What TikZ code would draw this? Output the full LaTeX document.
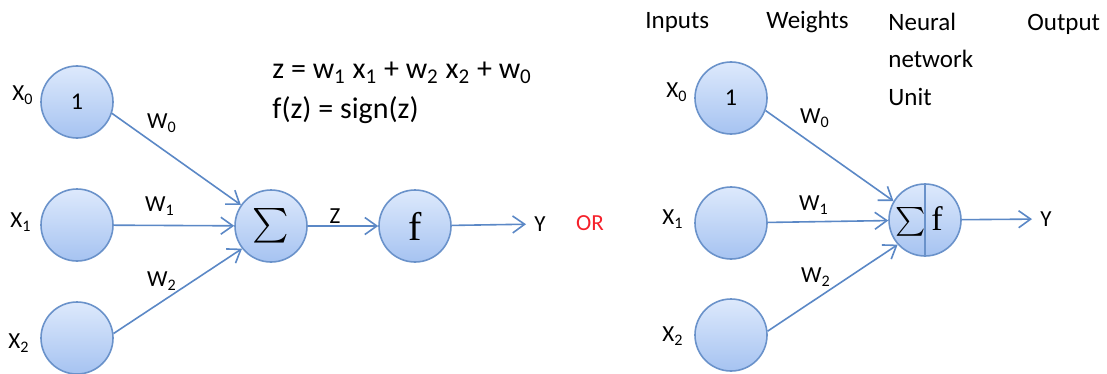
\documentclass[tikz,border=0pt]{standalone}
\usepackage{amsmath}
\usepackage[no-math]{fontspec}
\setmainfont{Carlito}
\newfontfamily\actfont{Liberation Serif}
\usetikzlibrary{arrows.meta}
\definecolor{nodeTop}{HTML}{DDE9FC}
\definecolor{nodeBot}{HTML}{A6C3F1}
\definecolor{nodeEdge}{HTML}{6A92CA}
\definecolor{wireBlue}{HTML}{5B88C6}
\definecolor{orRed}{HTML}{F5202A}
\begin{document}
\begin{tikzpicture}[
    x=0.5pt, y=-0.5pt,
    neuron/.style={circle, draw=nodeEdge, line width=0.8pt, top color=nodeTop, bottom color=nodeBot,
      minimum size=36pt, inner sep=0pt, font=\fontsize{12}{14}\selectfont},
    wire/.style={draw=wireBlue, line width=0.8pt, -{Straight Barb[length=6pt,width=8.5pt]}},
    lbl/.style={font=\fontsize{11.5}{13}\selectfont, inner sep=0pt},
    head/.style={font=\fontsize{12.5}{15}\selectfont, inner sep=0pt, anchor=base west},
    eqn/.style={font=\fontsize{15}{18}\selectfont, inner sep=0pt, anchor=base west},
  ]
    \useasboundingbox (0,0) rectangle (1107,374);
    % Left: perceptron drawn in two stages
    \node[neuron] (lx0) at (77,102) {1};
    \node[neuron] (lx1) at (77,225) {};
    \node[neuron] (lx2) at (77,338) {};
    \node[neuron, font=\fontsize{18}{20}\selectfont] (sum) at (271,226) {$\sum$};
    \node[neuron, font=\actfont\fontsize{20}{22}\selectfont] (act) at (415,226) {f};
    \node[lbl] (ly) at (540,224) {Y};
    \node[lbl, text=orRed] (or) at (590,223) {OR};
    \node[lbl] (lx0-lbl) at (23,95) {X\textsubscript{0}};
    \node[lbl] (lx1-lbl) at (21,222) {X\textsubscript{1}};
    \node[lbl] (lx2-lbl) at (19,343) {X\textsubscript{2}};
    \node[lbl] (lw0) at (162,123) {W\textsubscript{0}};
    \node[lbl] (lw1) at (160,206) {W\textsubscript{1}};
    \node[lbl] (lw2) at (162,281) {W\textsubscript{2}};
    \node[lbl] (lz) at (335,216) {Z};
    \node[eqn] (eq1) at (272,79) {z = w\textsubscript{1} x\textsubscript{1} + w\textsubscript{2} x\textsubscript{2} + w\textsubscript{0}};
    \node[eqn] (eq2) at (272,119) {f(z) = sign(z)};
    \draw[wire] (lx0.-18) -- (sum.145);
    \draw[wire] (lx1) -- (sum);
    \draw[wire] (lx2.7) -- (sum.218);
    \draw[wire] (sum) -- (act);
    \draw[wire, shorten >=4pt] (act) -- (ly);
    % Right: same unit with sum and activation merged
    \node[head] (h-in) at (645,29) {Inputs};
    \node[head] (h-wt) at (766,29) {Weights};
    \foreach \t [count=\i from 0] in {Neural, network, Unit} {
      \node[head] (h-nn\i) at (888, 31+\i*37) {\t};
    }
    \node[head] (h-out) at (1027,31) {Output};
    \node[neuron] (rx0) at (731,98) {1};
    \node[neuron] (rx1) at (731,223) {};
    \node[neuron] (rx2) at (731,335) {};
    \node[neuron] (unit) at (925,220) {};
    \draw[draw=nodeEdge, line width=0.8pt] (unit.north) -- (unit.south);
    \node[inner sep=0pt, font=\fontsize{15}{18}\selectfont] (u-sum) at (911,222) {$\sum$};
    \node[inner sep=0pt, font=\actfont\fontsize{17}{19}\selectfont] (u-f) at (937,219) {f};
    \node[lbl] (ry) at (1046,219) {Y};
    \node[lbl] (rx0-lbl) at (677,92) {X\textsubscript{0}};
    \node[lbl] (rx1-lbl) at (673,219) {X\textsubscript{1}};
    \node[lbl] (rx2-lbl) at (673,336) {X\textsubscript{2}};
    \node[lbl] (rw0) at (815,118) {W\textsubscript{0}};
    \node[lbl] (rw1) at (814,205) {W\textsubscript{1}};
    \node[lbl] (rw2) at (816,277) {W\textsubscript{2}};
    \draw[wire] (rx0.-20) -- (unit.149);
    \draw[wire] (rx1) -- (unit);
    \draw[wire] (rx2.6) -- (unit.222);
    \draw[wire, shorten >=4pt] (unit) -- (ry);
  \end{tikzpicture}
\end{document}
